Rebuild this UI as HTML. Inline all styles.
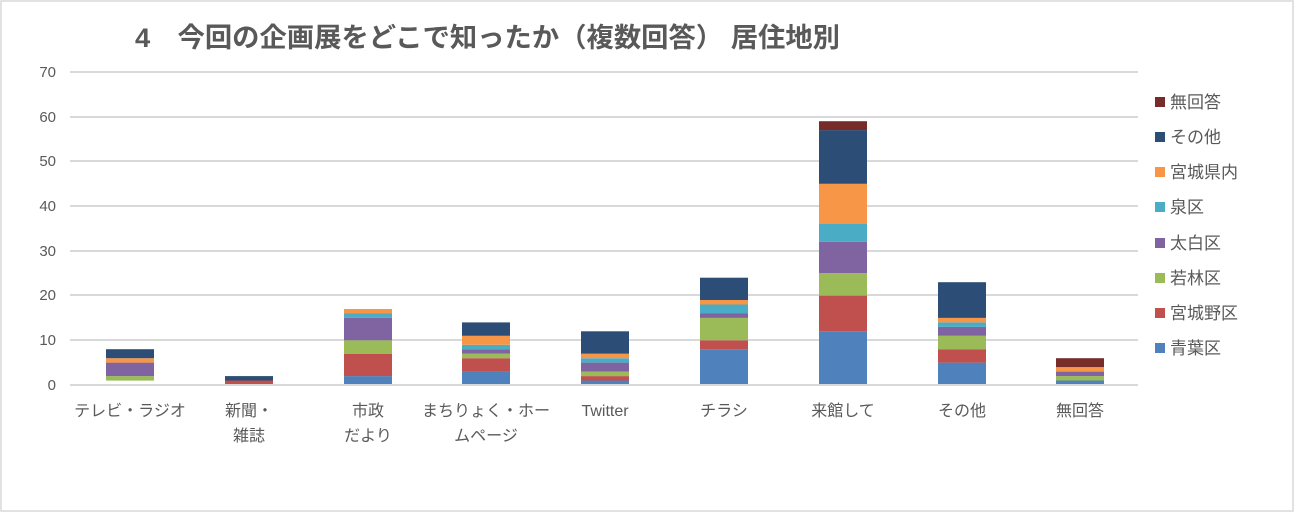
<!DOCTYPE html>
<html><head><meta charset="utf-8"><style>
html,body{margin:0;padding:0;background:#fff}
svg{display:block}
text{font-family:"Liberation Sans","Noto Sans CJK JP",sans-serif;fill:#595959}
</style></head><body>
<svg width="1303" height="514" xmlns="http://www.w3.org/2000/svg">
<rect x="1" y="1" width="1292" height="510" fill="#fff" stroke="#d9d9d9" stroke-width="1.5"/>
<text x="135" y="47" font-size="27" font-weight="bold" textLength="705" lengthAdjust="spacingAndGlyphs">4　今回の企画展をどこで知ったか（複数回答） 居住地別</text>
<g stroke="#d9d9d9" stroke-width="2">
<line x1="70" x2="1138" y1="72" y2="72"/><line x1="70" x2="1138" y1="117" y2="117"/>
<line x1="70" x2="1138" y1="161" y2="161"/><line x1="70" x2="1138" y1="206" y2="206"/>
<line x1="70" x2="1138" y1="251" y2="251"/><line x1="70" x2="1138" y1="295" y2="295"/>
<line x1="70" x2="1138" y1="340" y2="340"/><line x1="70" x2="1138" y1="385" y2="385"/>
</g>
<g font-size="15" text-anchor="end">
<text x="56" y="77">70</text><text x="56" y="122">60</text><text x="56" y="166">50</text>
<text x="56" y="211">40</text><text x="56" y="256">30</text><text x="56" y="300">20</text>
<text x="56" y="345">10</text><text x="56" y="390">0</text>
</g>
<rect x="106" y="376.1" width="48" height="4.5" fill="#9BBB59"/>
<rect x="106" y="362.6" width="48" height="13.5" fill="#8064A2"/>
<rect x="106" y="358.2" width="48" height="4.4" fill="#F79646"/>
<rect x="106" y="349.2" width="48" height="9" fill="#2C4D75"/>
<rect x="225" y="380.5" width="48" height="4.5" fill="#C0504D"/>
<rect x="225" y="376.1" width="48" height="4.4" fill="#2C4D75"/>
<rect x="344" y="376.1" width="48" height="8.9" fill="#4F81BD"/>
<rect x="344" y="353.7" width="48" height="22.4" fill="#C0504D"/>
<rect x="344" y="340.3" width="48" height="13.4" fill="#9BBB59"/>
<rect x="344" y="317.9" width="48" height="22.4" fill="#8064A2"/>
<rect x="344" y="313.5" width="48" height="4.4" fill="#4BACC6"/>
<rect x="344" y="309" width="48" height="4.5" fill="#F79646"/>
<rect x="462" y="371.6" width="48" height="13.4" fill="#4F81BD"/>
<rect x="462" y="358.2" width="48" height="13.4" fill="#C0504D"/>
<rect x="462" y="353.7" width="48" height="4.5" fill="#9BBB59"/>
<rect x="462" y="349.2" width="48" height="4.5" fill="#8064A2"/>
<rect x="462" y="344.8" width="48" height="4.4" fill="#4BACC6"/>
<rect x="462" y="335.8" width="48" height="9" fill="#F79646"/>
<rect x="462" y="322.4" width="48" height="13.4" fill="#2C4D75"/>
<rect x="581" y="380.5" width="48" height="4.5" fill="#4F81BD"/>
<rect x="581" y="376.1" width="48" height="4.4" fill="#C0504D"/>
<rect x="581" y="371.6" width="48" height="4.5" fill="#9BBB59"/>
<rect x="581" y="362.6" width="48" height="9" fill="#8064A2"/>
<rect x="581" y="358.2" width="48" height="4.4" fill="#4BACC6"/>
<rect x="581" y="353.7" width="48" height="4.5" fill="#F79646"/>
<rect x="581" y="331.3" width="48" height="22.4" fill="#2C4D75"/>
<rect x="700" y="349.2" width="48" height="35.8" fill="#4F81BD"/>
<rect x="700" y="340.3" width="48" height="8.9" fill="#C0504D"/>
<rect x="700" y="317.9" width="48" height="22.4" fill="#9BBB59"/>
<rect x="700" y="313.5" width="48" height="4.4" fill="#8064A2"/>
<rect x="700" y="304.5" width="48" height="9" fill="#4BACC6"/>
<rect x="700" y="300" width="48" height="4.5" fill="#F79646"/>
<rect x="700" y="277.7" width="48" height="22.3" fill="#2C4D75"/>
<rect x="819" y="331.3" width="48" height="53.7" fill="#4F81BD"/>
<rect x="819" y="295.6" width="48" height="35.7" fill="#C0504D"/>
<rect x="819" y="273.2" width="48" height="22.4" fill="#9BBB59"/>
<rect x="819" y="241.9" width="48" height="31.3" fill="#8064A2"/>
<rect x="819" y="224" width="48" height="17.9" fill="#4BACC6"/>
<rect x="819" y="183.8" width="48" height="40.2" fill="#F79646"/>
<rect x="819" y="130.1" width="48" height="53.7" fill="#2C4D75"/>
<rect x="819" y="121.2" width="48" height="8.9" fill="#772C2A"/>
<rect x="938" y="362.6" width="48" height="22.4" fill="#4F81BD"/>
<rect x="938" y="349.2" width="48" height="13.4" fill="#C0504D"/>
<rect x="938" y="335.8" width="48" height="13.4" fill="#9BBB59"/>
<rect x="938" y="326.9" width="48" height="8.9" fill="#8064A2"/>
<rect x="938" y="322.4" width="48" height="4.5" fill="#4BACC6"/>
<rect x="938" y="317.9" width="48" height="4.5" fill="#F79646"/>
<rect x="938" y="282.2" width="48" height="35.7" fill="#2C4D75"/>
<rect x="1056" y="380.5" width="48" height="4.5" fill="#4F81BD"/>
<rect x="1056" y="376.1" width="48" height="4.4" fill="#9BBB59"/>
<rect x="1056" y="371.6" width="48" height="4.5" fill="#8064A2"/>
<rect x="1056" y="367.1" width="48" height="4.5" fill="#F79646"/>
<rect x="1056" y="358.2" width="48" height="8.9" fill="#772C2A"/>
<line x1="70" x2="1138" y1="385" y2="385" stroke="#d9d9d9" stroke-width="2"/>
<g font-size="16" text-anchor="middle">
<text x="130" y="416">テレビ・ラジオ</text>
<text x="249" y="416">新聞・</text><text x="249" y="441">雑誌</text>
<text x="368" y="416">市政</text><text x="368" y="441">だより</text>
<text x="486" y="416">まちりょく・ホー</text><text x="486" y="441">ムページ</text>
<text x="605" y="416">Twitter</text>
<text x="724" y="416">チラシ</text>
<text x="843" y="416">来館して</text>
<text x="962" y="416">その他</text>
<text x="1080" y="416">無回答</text>
</g>
<g font-size="17">
<rect x="1155" y="97" width="10" height="10" fill="#772C2A"/><text x="1170" y="108">無回答</text>
<rect x="1155" y="132" width="10" height="10" fill="#2C4D75"/><text x="1170" y="143">その他</text>
<rect x="1155" y="167" width="10" height="10" fill="#F79646"/><text x="1170" y="178">宮城県内</text>
<rect x="1155" y="202" width="10" height="10" fill="#4BACC6"/><text x="1170" y="213">泉区</text>
<rect x="1155" y="238" width="10" height="10" fill="#8064A2"/><text x="1170" y="249">太白区</text>
<rect x="1155" y="273" width="10" height="10" fill="#9BBB59"/><text x="1170" y="284">若林区</text>
<rect x="1155" y="308" width="10" height="10" fill="#C0504D"/><text x="1170" y="319">宮城野区</text>
<rect x="1155" y="343" width="10" height="10" fill="#4F81BD"/><text x="1170" y="354">青葉区</text>
</g>
</svg>
</body></html>
